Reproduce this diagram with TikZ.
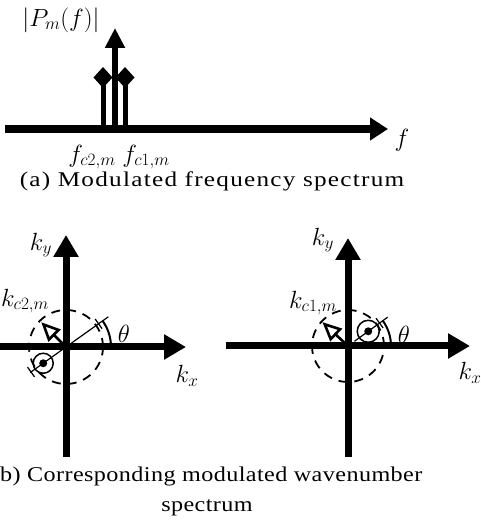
\documentclass[tikz,border=0pt]{standalone}
\usepackage{fontspec}
\setmainfont{Liberation Serif}
\newfontfamily\capafont[FakeStretch=1.2,LetterSpace=6]{Liberation Serif}
\newfontfamily\capbfont[FakeStretch=1.15,LetterSpace=2]{Liberation Serif}
\usetikzlibrary{arrows.meta, calc}

\begin{document}
\begin{tikzpicture}[x=1pt,y=1pt,
                    axis/.style={line width=7pt,-{Triangle[length=22pt,width=24pt]}},
                    spike/.style={line width=5pt,-{Diamond[length=21pt,width=19pt]}},
                    lab/.style={inner sep=0pt,font=\fontsize{26}{30}\selectfont},
                    sublab/.style={inner sep=0pt,font=\fontsize{24}{28}\selectfont},
                    ring/.style={line width=1.8pt,dash pattern=on 9pt off 7pt},
                    radial/.style={line width=1.2pt},
                    kvec/.style={line width=2.6pt,-{Triangle[open,length=19pt,width=17pt]}},
                    captext/.style={inner sep=0pt,align=center}
]
\useasboundingbox (0,0) rectangle (481,527);

% (a) modulated frequency spectrum
\coordinate (fo) at (5,398);
\coordinate (fe) at (388,398);
\coordinate (pb) at (115,398);
\coordinate (pt) at (115,499);
\foreach \x in {103,125} \draw[spike] (\x,398) -- (\x,460);
\draw[axis,line width=8pt,-{Triangle[length=18pt,width=22pt]}] (fo) -- (fe);
\draw[axis,line width=6pt,-{Triangle[length=20pt,width=19pt]}] (pb) -- (pt);
\node[lab,font=\fontsize{25}{29}\selectfont] (pm) at (61,507) {$\bigl|P_m(f)\bigr|$};
\node[lab] (fl) at (402,387) {$f$};
\node[sublab] (fc2) at (92,370) {$f_{c2,m}$};
\node[sublab] (fc1) at (146,370) {$f_{c1,m}$};
\node[captext,font={\capafont\fontsize{21}{25}\selectfont}] (capa) at (212,346)
  {(a) Modulated frequency spectrum};

% (b) left: k_c2,m
\coordinate (o1) at (66,180);
\coordinate (x1s) at (-5,180);
\coordinate (x1e) at (186,180);
\coordinate (y1s) at (66,70);
\coordinate (y1e) at (66,292);
\draw[axis] (x1s) -- (x1e);
\draw[axis] (y1s) -- (y1e);
\draw[ring] (o1) circle (37);
\draw[radial] ($(o1)+(215.5:44)$) -- ($(o1)+(35.5:52)$);
\draw[radial] ($(o1)+(35.5:40)+(125.5:6)$) -- ($(o1)+(35.5:40)+(-54.5:6)$);
\draw[radial] ($(o1)+(215.5:43)+(125.5:6)$) -- ($(o1)+(215.5:43)+(-54.5:6)$);
\draw[line width=1.5pt] ($(o1)+(215.5:28)$) circle (10);
\fill ($(o1)+(215.5:28)$) circle (4);
\draw[line width=2pt] ($(o1)+(0:45)$) arc[start angle=0,end angle=35.5,radius=45];
\draw[kvec] (o1) -- ++(135:35);
\node[lab] (ky1) at (41,282) {$k_y$};
\node[lab] (kx1) at (187,151) {$k_x$};
\node[lab] (th1) at (124,193) {$\theta$};
\node[lab] (kc2) at (25,226) {$k_{c2,m}$};

% (b) right: k_c1,m
\coordinate (o2) at (348,181);
\coordinate (x2s) at (226,181);
\coordinate (x2e) at (470,181);
\coordinate (y2s) at (348,70);
\coordinate (y2e) at (348,289);
\draw[axis] (x2s) -- (x2e);
\draw[axis] (y2s) -- (y2e);
\draw[ring] (o2) circle (36);
\draw[radial] ($(o2)+(36:8)$) -- ($(o2)+(36:49)$);
\draw[radial] ($(o2)+(36:39)+(126:6)$) -- ($(o2)+(36:39)+(-54:6)$);
\draw[line width=1.5pt] ($(o2)+(36:25)$) circle (11);
\fill ($(o2)+(36:25)$) circle (4);
\draw[line width=2pt] ($(o2)+(0:43)$) arc[start angle=0,end angle=36,radius=43];
\draw[kvec] (o2) -- ++(137:35);
\node[lab] (ky2) at (323,287) {$k_y$};
\node[lab] (kx2) at (470,154) {$k_x$};
\node[lab] (th2) at (404,192) {$\theta$};
\node[lab] (kc1) at (313,224) {$k_{c1,m}$};

\node[captext,font={\capbfont\fontsize{21}{30}\selectfont}] (capb) at (207,36)
  {(b) Corresponding modulated wavenumber\\spectrum};
\end{tikzpicture}
\end{document}
